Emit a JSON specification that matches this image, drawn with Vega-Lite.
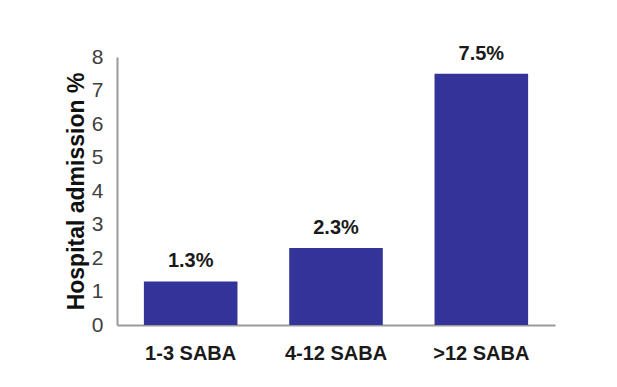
{
  "$schema": "https://vega.github.io/schema/vega-lite/v6.json",
  "width": 438,
  "height": 268,
  "autosize": {"type": "none"},
  "padding": {"left": 117, "top": 57, "right": 62, "bottom": 62},
  "background": "white",
  "config": {"view": {"stroke": null}, "font": "Liberation Sans"},
  "data": {"values": [
    {"group": "1-3 SABA", "value": 1.3, "label": "1.3%"},
    {"group": "4-12 SABA", "value": 2.3, "label": "2.3%"},
    {"group": ">12 SABA", "value": 7.5, "label": "7.5%"}
  ]},
  "encoding": {
    "x": {"field": "group", "type": "nominal", "sort": null,
      "scale": {"paddingInner": 0.356, "paddingOuter": 0.185},
      "axis": {"title": null, "labelAngle": 0, "ticks": false, "domainColor": "#9a9a9a", "domainWidth": 2,
        "labelFont": "Liberation Sans", "labelFontWeight": "bold", "labelFontSize": 20, "labelColor": "#1a1a1a", "labelPadding": 18}},
    "y": {"field": "value", "type": "quantitative",
      "scale": {"domain": [0, 8], "nice": false},
      "axis": {"title": "Hospital admission %", "grid": false, "ticks": false, "values": [0,1,2,3,4,5,6,7,8],
        "labelOverlap": false, "labelFlush": false,
        "domainColor": "#9a9a9a", "domainWidth": 2, "labelFontSize": 21, "labelColor": "#404040", "labelPadding": 14,
        "titleFontSize": 23, "titleFontWeight": "bold", "titleColor": "#111111", "titlePadding": 3}}
  },
  "layer": [
    {"mark": {"type": "bar", "color": "#333399"}},
    {"mark": {"type": "text", "baseline": "alphabetic", "dy": -14, "fontSize": 20, "fontWeight": "bold", "color": "#1a1a1a"},
     "encoding": {"text": {"field": "label"}}}
  ]
}
